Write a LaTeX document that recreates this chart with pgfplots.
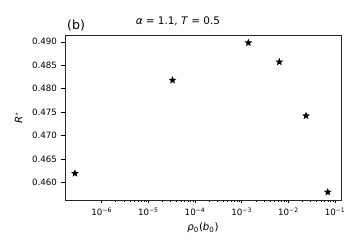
\documentclass[border=0pt]{standalone}
\usepackage{pgfplots}
\pgfplotsset{compat=1.18}
\usepackage{fontspec}
\setmainfont{DejaVu Sans}
\pgfdeclareplotmark{fstar}{%
  \pgfpathmoveto{\pgfpointpolar{90}{\pgfplotmarksize}}%
  \pgfpathlineto{\pgfpointpolar{126}{0.45\pgfplotmarksize}}%
  \pgfpathlineto{\pgfpointpolar{162}{\pgfplotmarksize}}%
  \pgfpathlineto{\pgfpointpolar{198}{0.45\pgfplotmarksize}}%
  \pgfpathlineto{\pgfpointpolar{234}{\pgfplotmarksize}}%
  \pgfpathlineto{\pgfpointpolar{270}{0.45\pgfplotmarksize}}%
  \pgfpathlineto{\pgfpointpolar{306}{\pgfplotmarksize}}%
  \pgfpathlineto{\pgfpointpolar{342}{0.45\pgfplotmarksize}}%
  \pgfpathlineto{\pgfpointpolar{18}{\pgfplotmarksize}}%
  \pgfpathlineto{\pgfpointpolar{54}{0.45\pgfplotmarksize}}%
  \pgfpathclose
  \pgfusepathqfill}
\begin{document}
\begin{tikzpicture}
\begin{axis}[
  name=ax,
  scale only axis,
  width=276pt, height=164.5pt,
  xmode=log,
  xmin=1.64e-7, xmax=0.134,
  ymin=0.45622, ymax=0.49135,
  xtick={1e-6,1e-5,1e-4,1e-3,1e-2,1e-1},
  xticklabels={10\textsuperscript{−6},10\textsuperscript{−5},10\textsuperscript{−4},10\textsuperscript{−3},10\textsuperscript{−2},10\textsuperscript{−1}},
  ytick={0.460,0.465,0.470,0.475,0.480,0.485,0.490},
  yticklabels={0.460,0.465,0.470,0.475,0.480,0.485,0.490},
  tick align=outside,
  xtick pos=bottom, ytick pos=left,
  major tick length=3.5pt, minor tick length=2pt,
  tick style={black, line width=0.6pt},
  minor tick style={line width=0.45pt},
  axis line style={line width=0.7pt, black!85},
  tick label style={font=\fontsize{8.7}{10}\selectfont},
  yticklabel style={anchor=east, xshift=-1pt},
  xticklabel style={anchor=base, yshift=-12.5pt},
  every axis x label/.style={at={(axis description cs:0.5,0)}, anchor=base, yshift=-31pt},
  every axis y label/.style={at={(axis description cs:-0.168,0.5)}, rotate=90, anchor=center},
  label style={font=\fontsize{10.2}{12}\selectfont},
  xlabel={\textit{ρ}\textsubscript{0}(\textit{b}\textsubscript{0})},
  ylabel={\textit{R}\textsuperscript{$*$}},
  title={\textit{α} = 1.1, \textit{T} = 0.5},
  title style={font=\fontsize{10.4}{12}\selectfont, at={(axis description cs:0.409,1)}, anchor=base, yshift=4.5pt},
  clip=false,
]
\addplot[only marks, mark=fstar, mark size=4pt, black] coordinates {
  (2.68e-7,0.4619)
  (3.3e-5,0.4818)
  (1.39e-3,0.4898)
  (6.4e-3,0.4857)
  (2.39e-2,0.4742)
  (6.98e-2,0.4579)
};
\node[font=\fontsize{12.5}{14}\selectfont, anchor=base west, inner sep=0pt] at ([xshift=2pt, yshift=6pt]rel axis cs:0,1) {(b)};
\end{axis}
\pgfresetboundingbox
\path ([xshift=-65pt,yshift=-51pt]ax.south west) rectangle ([xshift=18pt,yshift=35.5pt]ax.north east);
\end{tikzpicture}
\end{document}
